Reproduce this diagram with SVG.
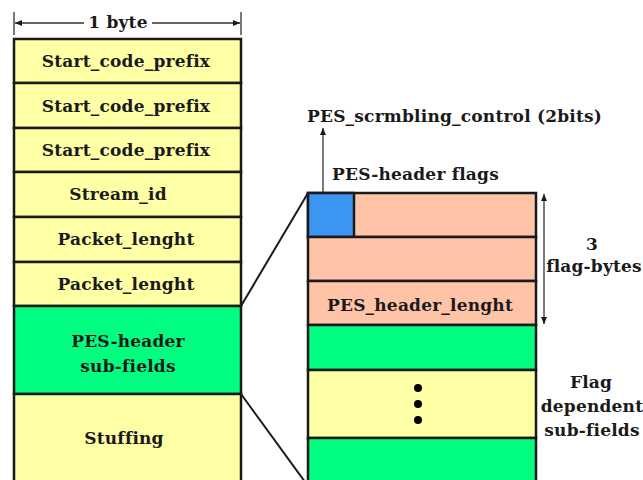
<svg xmlns="http://www.w3.org/2000/svg" width="643" height="480" viewBox="0 0 643 480">
<style>
.y{fill:#FFFFA6;stroke:#1a1a1a;stroke-width:2.5}
.g{fill:#00FF80;stroke:#1a1a1a;stroke-width:2.5}
.s{fill:#FFC4A8;stroke:#1a1a1a;stroke-width:2.5}
.b{fill:#3A96F0;stroke:#1a1a1a;stroke-width:2.5}
text{font-family:"DejaVu Serif","Liberation Serif",serif;font-weight:bold;font-size:17px;letter-spacing:0.2px;fill:#1a1a1a}
.c{text-anchor:middle}
.ln{stroke:#1a1a1a;stroke-width:2;fill:none}
.thin{stroke:#333;stroke-width:1.3;fill:none}
</style>
<defs>
<marker id="ah" markerWidth="8" markerHeight="8" refX="7" refY="4" orient="auto" markerUnits="userSpaceOnUse">
<path d="M0,1 L7,4 L0,7 Z" fill="#1a1a1a"/>
</marker>
</defs>
<rect width="643" height="480" fill="#fff"/>

<g id="dim-byte">
<line class="thin" x1="14" y1="12" x2="14" y2="35"/>
<line class="thin" x1="241" y1="12" x2="241" y2="35"/>
<line class="thin" x1="84" y1="23" x2="15" y2="23" marker-end="url(#ah)"/>
<line class="thin" x1="152" y1="23" x2="240" y2="23" marker-end="url(#ah)"/>
<text class="c" x="118" y="28">1 byte</text>
</g>

<g id="scp1"><rect class="y" x="14" y="39" width="227" height="44"/><text class="c" x="126" y="67">Start_code_prefix</text></g>
<g id="scp2"><rect class="y" x="14" y="83" width="227" height="45"/><text class="c" x="126" y="112">Start_code_prefix</text></g>
<g id="scp3"><rect class="y" x="14" y="128" width="227" height="44"/><text class="c" x="126" y="156">Start_code_prefix</text></g>
<g id="stream-id"><rect class="y" x="14" y="172" width="227" height="45"/><text class="c" x="118" y="200">Stream_id</text></g>
<g id="plen1"><rect class="y" x="14" y="217" width="227" height="45"/><text class="c" x="126" y="245">Packet_lenght</text></g>
<g id="plen2"><rect class="y" x="14" y="262" width="227" height="44"/><text class="c" x="126" y="290">Packet_lenght</text></g>
<g id="pes-sub"><rect class="g" x="14" y="306" width="227" height="88"/><text class="c" x="128" y="347">PES-header</text><text class="c" x="128" y="372">sub-fields</text></g>
<g id="stuffing"><rect class="y" x="14" y="394" width="227" height="92"/><text class="c" x="124" y="444">Stuffing</text></g>

<g id="connectors">
<line class="ln" x1="241" y1="306" x2="308" y2="193"/>
<line class="ln" x1="241" y1="394" x2="308" y2="486"/>
<line class="thin" x1="323" y1="207" x2="323" y2="128" marker-end="url(#ah)"/>
<line class="thin" x1="544" y1="201" x2="544" y2="194" marker-end="url(#ah)"/>
<line class="thin" x1="544" y1="201" x2="544" y2="317"/>
<line class="thin" x1="544" y1="317" x2="544" y2="324" marker-end="url(#ah)"/>
</g>

<g id="flag1"><rect class="s" x="308" y="193" width="228" height="44"/></g>
<g id="scrambling"><rect class="b" x="308" y="193" width="46" height="44"/></g>
<g id="flag2"><rect class="s" x="308" y="237" width="228" height="44"/></g>
<g id="pes-hlen"><rect class="s" x="308" y="281" width="228" height="44"/><text class="c" x="420" y="311">PES_header_lenght</text></g>
<g id="sub1"><rect class="g" x="308" y="325" width="228" height="45"/></g>
<g id="subdots"><rect class="y" x="308" y="370" width="228" height="68"/>
<circle cx="418" cy="388" r="4" fill="#000"/><circle cx="418" cy="404" r="4" fill="#000"/><circle cx="418" cy="420" r="4" fill="#000"/></g>
<g id="sub2"><rect class="g" x="308" y="438" width="228" height="48"/></g>

<g id="labels">
<text x="307" y="122">PES_scrmbling_control (2bits)</text>
<text x="332" y="180">PES-header flags</text>
<text class="c" x="592" y="250">3</text>
<text class="c" x="594" y="272">flag-bytes</text>
<text class="c" x="591" y="388">Flag</text>
<text class="c" x="592" y="412">dependent</text>
<text class="c" x="592" y="436">sub-fields</text>
</g>
</svg>
